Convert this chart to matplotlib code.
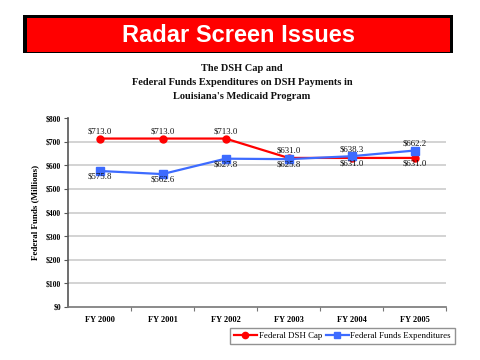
import matplotlib
matplotlib.use("Agg")
import matplotlib.pyplot as plt
from matplotlib.patches import Rectangle

years = ["FY 2000", "FY 2001", "FY 2002", "FY 2003", "FY 2004", "FY 2005"]
dsh_cap = [713.0, 713.0, 713.0, 631.0, 631.0, 631.0]
fed_exp = [575.8, 562.6, 627.8, 625.8, 638.3, 662.2]
cap_label_pos = ["above", "above", "above", "above", "below", "below"]
exp_label_pos = ["below", "below", "below", "below", "above", "above"]
y_ticks = [0, 100, 200, 300, 400, 500, 600, 700, 800]

W, H = 480, 360
fig = plt.figure(figsize=(4.8, 3.6), dpi=100)
fig.patch.set_facecolor("white")

def fx(px):
    return px / W

def fy(py):
    return 1 - py / H

# Title banner
fig.patches.append(Rectangle((fx(23), fy(53)), fx(453) - fx(23), fy(15) - fy(53),
                             transform=fig.transFigure, facecolor="black", edgecolor="none"))
fig.patches.append(Rectangle((fx(26.5), fy(51.5)), fx(450) - fx(26.5), fy(18) - fy(51.5),
                             transform=fig.transFigure, facecolor="#ff0000", edgecolor="none"))
fig.text(fx(238.5), fy(35), "Radar Screen Issues", ha="center", va="center",
         color="white", fontsize=17, fontweight="bold", family="Liberation Sans")

sub = ["The DSH Cap and", "Federal Funds Expenditures on DSH Payments in",
       "Louisiana's Medicaid Program"]
for i, s in enumerate(sub):
    fig.text(fx(242), fy(68.5 + i * 14), s, ha="center", va="center",
             fontsize=7.5, fontweight="bold", family="Liberation Serif", color="#111111")

ax = fig.add_axes([fx(68), fy(307), fx(446) - fx(68), fy(118) - fy(307)])
x = list(range(len(years)))
ax.plot(x, dsh_cap, color="#ff0000", lw=1.6, marker="o", ms=5, label="Federal DSH Cap", zorder=3)
ax.plot(x, fed_exp, color="#3d6bff", lw=1.6, marker="s", ms=5.5, label="Federal Funds Expenditures", zorder=3)

ax.set_xlim(-0.5, len(years) - 0.5)
ax.set_ylim(0, 800)
ax.set_yticks(y_ticks)
ax.set_yticklabels([f"${v}" for v in y_ticks], family="Liberation Serif",
                   fontsize=5.5, fontweight="bold")
ax.set_xticks([i + 0.5 for i in range(len(years))])
ax.set_xticklabels([])
ax.set_xticks(x, minor=True)
ax.set_xticklabels(years, minor=True, family="Liberation Serif", fontsize=6, fontweight="bold")
ax.tick_params(axis="x", which="minor", length=0, pad=6.5)
ax.tick_params(axis="x", which="major", length=3, color="#777777", direction="out")
ax.tick_params(axis="y", length=3, color="#555555", pad=2)

for v in y_ticks[1:-1]:
    ax.axhline(v, color="#c8c8c8", lw=1.1, zorder=1)

for s in ["top", "right"]:
    ax.spines[s].set_visible(False)
ax.spines["left"].set_color("#555555")
ax.spines["bottom"].set_color("#777777")
ax.spines["left"].set_linewidth(1.2)
ax.spines["bottom"].set_linewidth(1.2)

ax.set_ylabel("Federal Funds (Millions)", family="Liberation Serif", fontsize=6.5,
              fontweight="bold", labelpad=5)

def annotate(vals, positions):
    for xi, v, p in zip(x, vals, positions):
        off = 5 if p == "above" else -4
        ax.annotate(f"${v:.1f}", (xi, v), xytext=(0, off), textcoords="offset points",
                    ha="center", va="center", fontsize=6.3, family="Liberation Serif",
                    color="#111111", zorder=4)

annotate(dsh_cap, cap_label_pos)
annotate(fed_exp, exp_label_pos)

leg = fig.legend(loc="center", bbox_to_anchor=(fx(342.5), fy(336)), ncol=2,
                 prop={"family": "Liberation Serif", "size": 6.4},
                 frameon=True, fancybox=False, edgecolor="#777777",
                 handlelength=2.6, handletextpad=0.2, columnspacing=0.4,
                 borderpad=0.4, markerscale=0.9)
leg.get_frame().set_linewidth(1.0)

fig.savefig("out.png", dpi=100, facecolor="white")
